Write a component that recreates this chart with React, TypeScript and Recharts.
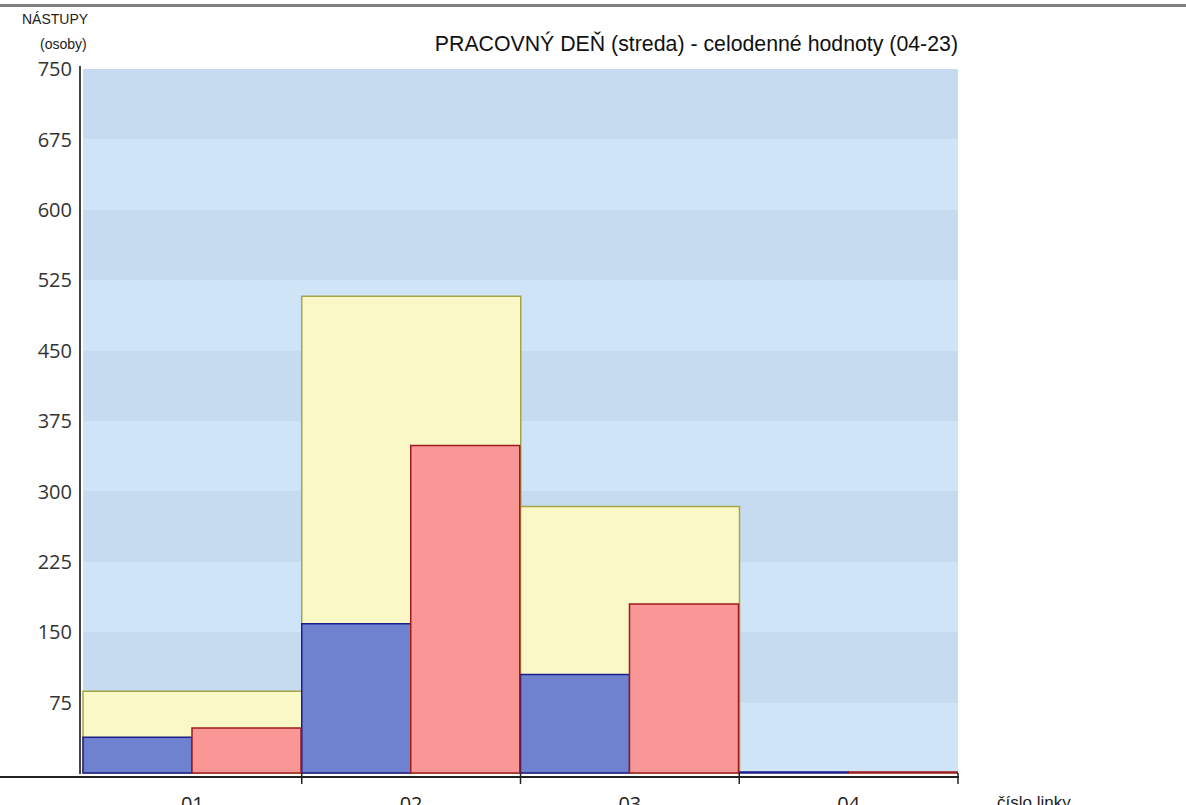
import { BarChart, Bar, XAxis, YAxis, CartesianGrid } from 'recharts';

// line numbers on the x axis
const lines = ['01', '02', '03', '04'];
// whole-day boardings (yellow, full category width)
const totalBoarding = [87, 508, 284, 0];
// left half (blue) and right half (red) of each line
const blueBoarding = [38, 159, 105, 0];
const redBoarding = [48, 349, 180, 0];
const yTicks = [75, 150, 225, 300, 375, 450, 525, 600, 675, 750];

const data = lines.map((name, i) => ({
  name,
  total: totalBoarding[i],
  blue: blueBoarding[i],
  red: redBoarding[i],
}));

const W = 1186;
const H = 805;
const Y_AXIS_W = 83;
const MARGIN = { top: 69, right: 228, bottom: 0, left: 0 };
const PLOT_W = W - Y_AXIS_W - MARGIN.right;
const HALF_BAND = PLOT_W / lines.length / 2;

const LineTick = (props: any) => {
  const { x, y, payload } = props;
  return (
    <g>
      <line x1={x + HALF_BAND} x2={x + HALF_BAND} y1={y} y2={y + 11} stroke="#222" strokeWidth={1.5} />
      <text x={x} y={y + 38} textAnchor="middle" fontSize={20} fontFamily="Open Sans" fill="#222">
        {payload.value}
      </text>
    </g>
  );
};

export default function App() {
  return (
    <div style={{ position: 'absolute', left: 0, top: 0, width: W, height: H, overflow: 'hidden', background: '#fff' }}>
      <BarChart width={W} height={H} data={data} margin={MARGIN} barCategoryGap={0} barGap={0}>
        <CartesianGrid
          vertical={false}
          stroke="none"
          horizontalFill={['#c6dbef', '#d0e4f7']}
        />
        <XAxis xAxisId="total" dataKey="name" hide />
        <XAxis
          dataKey="name"
          height={32}
          axisLine={false}
          tickLine={false}
          tickSize={0}
          tickMargin={0}
          tick={<LineTick />}
          interval={0}
        />
        <YAxis
          width={Y_AXIS_W}
          domain={[0, 750]}
          ticks={yTicks}
          axisLine={false}
          tickLine={false}
          tickMargin={5}
          tick={{ fontSize: 20, fontFamily: 'Open Sans', fill: '#333' }}
        />
        <Bar xAxisId="total" dataKey="total" fill="#f9f8c6" stroke="#a5a548" strokeWidth={1.5} isAnimationActive={false} />
        <Bar dataKey="blue" fill="#6e82d0" stroke="#1c1c8c" strokeWidth={1.5} minPointSize={1} isAnimationActive={false} />
        <Bar dataKey="red" fill="#f99696" stroke="#9c1c1c" strokeWidth={1.5} minPointSize={1} isAnimationActive={false} />
      </BarChart>

      {/* frame lines */}
      <div style={{ position: 'absolute', left: 0, top: 4, width: W, height: 3, background: '#808080' }} />
      <div style={{ position: 'absolute', left: 79, top: 66, width: 2, height: 708, background: '#444' }} />
      <div style={{ position: 'absolute', left: 0, top: 776, width: 959, height: 2, background: '#222' }} />

      {/* texts */}
      <div style={{ position: 'absolute', left: 22, top: 11, fontFamily: 'Liberation Sans', fontSize: 14, color: '#222' }}>
        NÁSTUPY
      </div>
      <div style={{ position: 'absolute', left: 40, top: 36, fontFamily: 'Liberation Sans', fontSize: 14, color: '#222' }}>
        (osoby)
      </div>
      <div
        style={{
          position: 'absolute',
          right: W - 958,
          top: 32,
          fontFamily: 'Liberation Sans',
          fontSize: 21.3,
          color: '#111',
          whiteSpace: 'nowrap',
        }}
      >
        PRACOVNÝ DEŇ (streda) - celodenné hodnoty (04-23)
      </div>
      <div style={{ position: 'absolute', left: 997, top: 793, fontFamily: 'Liberation Sans', fontSize: 17, color: '#222', whiteSpace: 'nowrap' }}>
        číslo linky
      </div>
    </div>
  );
}
